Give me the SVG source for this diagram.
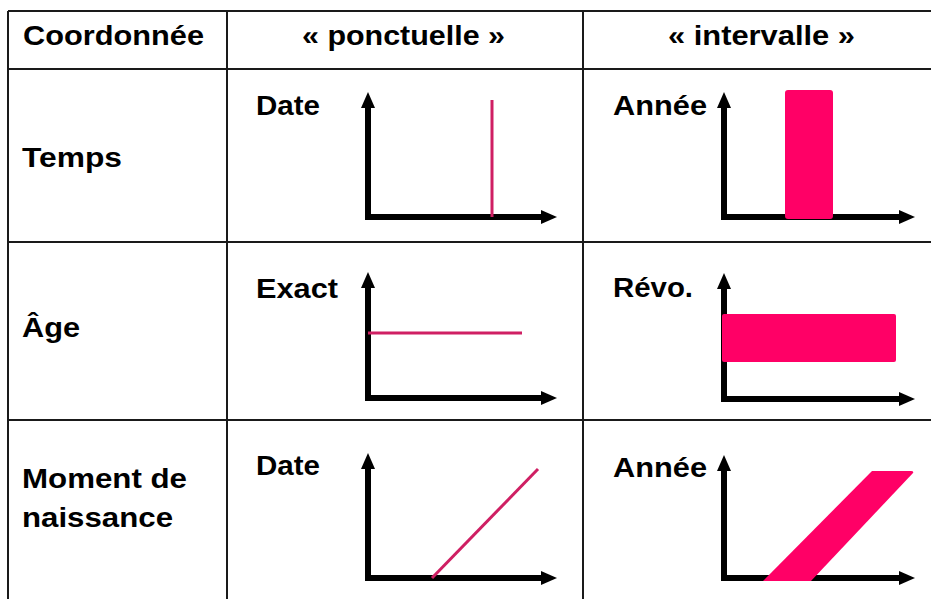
<svg xmlns="http://www.w3.org/2000/svg" width="931" height="599" viewBox="0 0 931 599">
<style>
.grid{stroke:#1a1a1a;stroke-width:2;fill:none}
.lbl{font-family:"Liberation Sans",Arial,sans-serif;font-weight:bold;font-size:27px;fill:#000}
.hdr{font-family:"Liberation Sans",Arial,sans-serif;font-weight:bold;font-size:28px;fill:#000}
.axis{stroke:#000;stroke-width:6;fill:none;stroke-linejoin:miter;marker-start:url(#arr);marker-end:url(#arr)}
.pline{stroke:#cf1f63;stroke-width:3;fill:none}
.pfill{fill:#ff0066}
</style>
<defs>
<marker id="arr" markerUnits="userSpaceOnUse" markerWidth="18" markerHeight="16" viewBox="0 0 18 16" refX="2" refY="8" orient="auto-start-reverse">
<path d="M0,1 L16,8 L0,15 z" fill="#000"/>
</marker>
</defs>
<rect x="0" y="0" width="931" height="599" fill="#fff"/>
<g id="grid">
<path class="grid" d="M8,11 H931 M8,69 H931 M8,242 H931 M8,420 H931 M8,11 V599 M227,11 V599 M583,11 V599"/>
</g>
<g id="header">
<text class="hdr" x="23" y="45" textLength="181" lengthAdjust="spacingAndGlyphs">Coordonnée</text>
<text class="hdr" x="302" y="45" textLength="203" lengthAdjust="spacingAndGlyphs">« ponctuelle »</text>
<text class="hdr" x="668" y="45" textLength="187" lengthAdjust="spacingAndGlyphs">« intervalle »</text>
</g>
<g id="row-temps">
<text class="lbl" x="22" y="167" textLength="100" lengthAdjust="spacingAndGlyphs">Temps</text>
</g>
<g id="row-age">
<text class="lbl" x="22" y="337" textLength="58" lengthAdjust="spacingAndGlyphs">Âge</text>
</g>
<g id="row-moment">
<text class="lbl" x="22" y="488" textLength="165" lengthAdjust="spacingAndGlyphs">Moment de</text>
<text class="lbl" x="22" y="527" textLength="151" lengthAdjust="spacingAndGlyphs">naissance</text>
</g>
<g id="cell-temps-ponctuelle">
<text class="lbl" x="256" y="115" textLength="64" lengthAdjust="spacingAndGlyphs">Date</text>
<path class="axis" d="M368,106 V217 H543"/>
<line class="pline" x1="492" y1="100" x2="492" y2="217"/>
</g>
<g id="cell-temps-intervalle">
<text class="lbl" x="613" y="115" textLength="94" lengthAdjust="spacingAndGlyphs">Année</text>
<path class="axis" d="M724,106 V217 H901"/>
<rect class="pfill" x="785" y="90" width="48" height="129" rx="3"/>
</g>
<g id="cell-age-ponctuelle">
<text class="lbl" x="256" y="298" textLength="82" lengthAdjust="spacingAndGlyphs">Exact</text>
<path class="axis" d="M368,286 V398 H543"/>
<line class="pline" x1="368" y1="333" x2="522" y2="333"/>
</g>
<g id="cell-age-intervalle">
<text class="lbl" x="613" y="297" textLength="80" lengthAdjust="spacingAndGlyphs">Révo.</text>
<path class="axis" d="M724,287 V399 H901"/>
<rect class="pfill" x="722" y="314" width="174" height="48" rx="2"/>
</g>
<g id="cell-moment-ponctuelle">
<text class="lbl" x="256" y="475" textLength="64" lengthAdjust="spacingAndGlyphs">Date</text>
<path class="axis" d="M368,467 V578 H543"/>
<line class="pline" x1="432" y1="578" x2="538" y2="469"/>
</g>
<g id="cell-moment-intervalle">
<text class="lbl" x="613" y="477" textLength="94" lengthAdjust="spacingAndGlyphs">Année</text>
<path class="axis" d="M724,469 V578 H901"/>
<path class="pfill" d="M763,581 L811,581 L913,473 Q914,471 911,471 L872,471 Z"/>
</g>
</svg>
